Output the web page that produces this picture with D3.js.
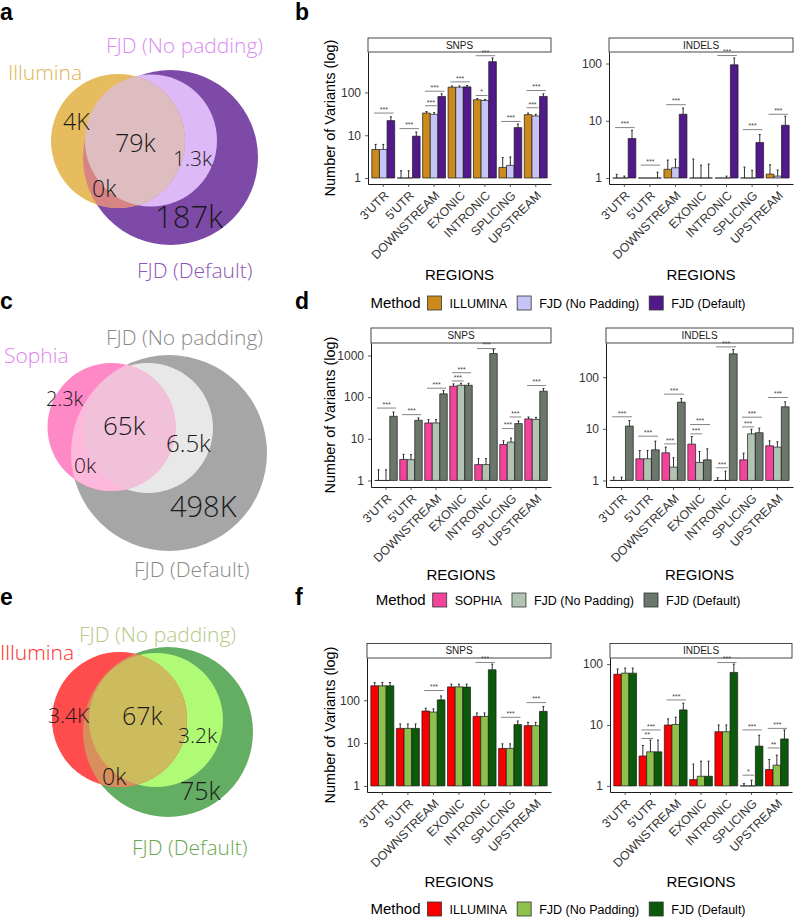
<!DOCTYPE html>
<html><head><meta charset="utf-8">
<script src="https://cdn.jsdelivr.net/npm/d3@7"></script>
<style>body{margin:0;background:#fff}svg{display:block}</style>
</head><body>
<svg id="c" width="796" height="918"></svg>
<script>
// ---------------- DATA ----------------
const regions = ["3'UTR","5'UTR","DOWNSTREAM","EXONIC","INTRONIC","SPLICING","UPSTREAM"];
const facetNames = ["SNPS","INDELS"];
const methodsB = ["ILLUMINA","FJD (No Padding)","FJD (Default)"];
const methodsD = ["SOPHIA","FJD (No Padding)","FJD (Default)"];
const methodsF = ["ILLUMINA","FJD (No Padding)","FJD (Default)"];

// panel b – SNPS
const bSnpsIllumina = [4.65, 1, 33, 133, 67.6, 1.77, 30.3];
const bSnpsNoPad    = [4.65, 1, 30.8, 133, 65, 1.97, 28.2];
const bSnpsDefault  = [22, 9.5, 80.7, 135, 526, 15.1, 80.7];
const bSnpsIlluminaErr = [6.1, 1.48, 35.9, 142, 72, 3.0, 33];
const bSnpsNoPadErr    = [6.1, 1.48, 33.7, 142, 68.5, 3.1, 30.8];
const bSnpsDefaultErr  = [27, 11.9, 93, 145, 640, 18.3, 93];
const bSnpsSig = [[0,0,2,33,"***"],[1,0,2,14.3,"***"],[2,0,2,107,"***"],[2,0,1,49,"***"],[3,0,2,177,"***"],
                  [4,0,1,85,"*"],[4,0,2,724,"***"],[5,0,2,21,"***"],[6,0,2,111,"***"],[6,0,1,44,"***"]];
// panel b – INDELS
const bIndelsIllumina = [1, 1, 1.42, 1, 1, 1, 1.17];
const bIndelsNoPad    = [1, 1, 1.51, 1, 1, 1, 1.08];
const bIndelsDefault  = [4.9, 1, 13, 1, 95, 4.17, 8.35];
const bIndelsIlluminaErr = [1.16, 1, 2.06, 2.14, 1, 1.55, 1.70];
const bIndelsNoPadErr    = [1.08, 1, 2.14, 1.68, 1.08, 1.36, 1.38];
const bIndelsDefaultErr  = [6.8, 1.26, 16.7, 1.75, 125, 5.75, 12];
const bIndelsSig = [[0,0,2,7.6,"***"],[1,0,2,1.68,"***"],[2,0,2,19.1,"***"],[4,0,2,138,"***"],[5,0,2,7.0,"***"],[6,0,2,13,"***"]];

// panel d – SNPS
const dSnpsSophia  = [1, 3.2, 24, 183, 2.4, 7.33, 30];
const dSnpsNoPad   = [1, 3.16, 24, 193, 2.4, 8.33, 29.3];
const dSnpsDefault = [34.7, 27.8, 120, 193, 1116, 23.2, 139];
const dSnpsSophiaErr  = [1.8, 4.24, 28.9, 208, 3.34, 8.96, 33.4];
const dSnpsNoPadErr   = [1.8, 4.16, 28.9, 215, 3.34, 10.4, 32.7];
const dSnpsDefaultErr = [44, 31.6, 144, 215, 1390, 26.8, 161];
const dSnpsSig = [[0,0,2,54.7,"***"],[1,0,2,38,"***"],[2,0,2,164,"***"],[3,0,2,386,"***"],[3,0,1,245,"***"],
                  [4,0,2,1468,"***"],[5,1,2,33.4,"***"],[5,0,1,17.6,"***"],[6,0,2,190,"***"]];
// panel d – INDELS
const dIndelsSophia  = [1, 2.63, 3.43, 5.05, 1, 2.51, 4.69];
const dIndelsNoPad   = [1, 2.63, 1.81, 2.23, 1, 8.0, 4.42];
const dIndelsDefault = [11.3, 3.92, 32.8, 2.51, 283, 8.4, 26.7];
const dIndelsSophiaErr  = [1.16, 3.8, 4.42, 7.1, 1.13, 3.38, 5.86];
const dIndelsNoPadErr   = [1.16, 3.8, 2.75, 3.64, 1.52, 9.8, 5.6];
const dIndelsDefaultErr = [14.5, 5.77, 38.6, 4.1, 343, 10.3, 33.3];
const dIndelsSig = [[0,0,2,17.1,"***"],[1,0,2,7.2,"***"],[2,0,2,46.9,"***"],[2,0,1,5.1,"***"],[3,0,2,12.1,"***"],
                    [3,0,1,8.0,"***"],[4,0,2,386,"***"],[4,0,1,1.76,"***"],[5,0,2,16.8,"***"],[5,0,1,10.9,"***"],[6,0,2,40.4,"***"]];

// panel f – SNPS
const fSnpsIllumina = [217, 22, 56, 205, 42, 7.5, 25.5];
const fSnpsNoPad    = [217, 22, 53, 205, 42, 7.5, 25.5];
const fSnpsDefault  = [217, 22, 102, 203, 514, 27, 55];
const fSnpsIlluminaErr = [259, 27.9, 65, 237, 50.5, 9.6, 30.5];
const fSnpsNoPadErr    = [259, 27.9, 62.7, 237, 50.5, 9.6, 30.5];
const fSnpsDefaultErr  = [259, 27.9, 126, 237, 698, 32.8, 71];
const fSnpsSig = [[2,0,2,168.5,"***"],[4,0,2,763,"***"],[5,0,2,40,"***"],[6,0,2,88,"***"]];
// panel f – INDELS
const fIndelsIllumina = [68, 3.1, 10, 1.27, 7.76, 1, 1.86];
const fIndelsNoPad    = [71, 3.63, 10.2, 1.44, 7.76, 1, 2.19];
const fIndelsDefault  = [71, 3.63, 17.7, 1.44, 73, 4.5, 5.9];
const fIndelsIlluminaErr = [83, 4.6, 12.6, 2.28, 10, 1.09, 2.72];
const fIndelsNoPadErr    = [86, 5.66, 13.4, 2.55, 10, 1.24, 3.2];
const fIndelsDefaultErr  = [86, 5.66, 22.8, 2.55, 100, 6.8, 8.3];
const fIndelsSig = [[1,0,2,8.3,"***"],[1,0,1,6.0,"**"],[2,0,2,25.8,"***"],[4,0,2,106,"***"],[5,0,2,8.3,"***"],
                    [5,0,1,1.5,"*"],[6,0,2,8.8,"***"],[6,0,1,4.2,"**"]];

// Venn diagrams
const vennANames = ["Illumina","FJD (No padding)","FJD (Default)"];
const vennACounts = ["4K","79k","1.3k","0k","187k"];
const vennCNames = ["Sophia","FJD (No padding)","FJD (Default)"];
const vennCCounts = ["2.3k","65k","6.5k","0k","498K"];
const vennENames = ["Illumina","FJD (No padding)","FJD (Default)"];
const vennECounts = ["3.4K","67k","3.2k","0k","75k"];

// ---------------- STYLE / LAYOUT ----------------
const FONT = '"Liberation Sans", Arial, Helvetica, sans-serif';
const VFONT = '"Open Sans", "Noto Sans", sans-serif';
const svg = d3.select('#c');
const defs = svg.append('defs');

const barRows = [
  { methods: methodsB, colors: ["#CC8A1C","#C6C4F6","#52198A"],
    facets: [
      {vals:[bSnpsIllumina,bSnpsNoPad,bSnpsDefault], errs:[bSnpsIlluminaErr,bSnpsNoPadErr,bSnpsDefaultErr], sig:bSnpsSig},
      {vals:[bIndelsIllumina,bIndelsNoPad,bIndelsDefault], errs:[bIndelsIlluminaErr,bIndelsNoPadErr,bIndelsDefaultErr], sig:bIndelsSig}],
    L: {top:52, bottom:184, stripTop:38, facetX:[[368,551],[609,793]], titleY:280, legendY:303} },
  { methods: methodsD, colors: ["#F2449B","#B3C3B3","#6B776B"],
    facets: [
      {vals:[dSnpsSophia,dSnpsNoPad,dSnpsDefault], errs:[dSnpsSophiaErr,dSnpsNoPadErr,dSnpsDefaultErr], sig:dSnpsSig},
      {vals:[dIndelsSophia,dIndelsNoPad,dIndelsDefault], errs:[dIndelsSophiaErr,dIndelsNoPadErr,dIndelsDefaultErr], sig:dIndelsSig}],
    L: {top:343, bottom:487, stripTop:328, facetX:[[371,551],[606,793]], titleY:580, legendY:600} },
  { methods: methodsF, colors: ["#F80000","#8EC14C","#0B5A0B"],
    facets: [
      {vals:[fSnpsIllumina,fSnpsNoPad,fSnpsDefault], errs:[fSnpsIlluminaErr,fSnpsNoPadErr,fSnpsDefaultErr], sig:fSnpsSig},
      {vals:[fIndelsIllumina,fIndelsNoPad,fIndelsDefault], errs:[fIndelsIlluminaErr,fIndelsNoPadErr,fIndelsDefaultErr], sig:fIndelsSig}],
    L: {top:658, bottom:792, stripTop:643.5, facetX:[[367,551],[610,792]], titleY:887, legendY:909} }
];

function drawBarRow(row) {
  const L = row.L;
  row.facets.forEach((f, fi) => {
    const [x0, x1] = L.facetX[fi];
    const x = d3.scaleBand().domain(regions).range([x0, x1]).paddingInner(0.1).paddingOuter(0.15);
    const xm = d3.scaleBand().domain([0,1,2]).range([0, x.bandwidth()]);
    const bw = xm.bandwidth();
    const M = Math.log10(d3.max(f.errs.flat()));
    const y = d3.scaleLog().domain([Math.pow(10, -0.05*M), Math.pow(10, 1.05*M)]).range([L.bottom, L.top]);
    const g = svg.append('g');

    // strip
    g.append('rect').attr('x', x0).attr('y', L.stripTop).attr('width', x1 - x0).attr('height', L.top - L.stripTop)
      .attr('fill', '#fff').attr('stroke', '#333').attr('stroke-width', 0.9);
    g.append('text').attr('x', (x0 + x1)/2).attr('y', (L.stripTop + L.top)/2 + 3.6).attr('text-anchor','middle')
      .style('font-family', FONT).style('font-size','10px').attr('fill','#1a1a1a').text(facetNames[fi]);

    // bars
    const recs = [];
    f.vals.forEach((vals, m) => vals.forEach((v, i) => recs.push({m, i, v, e: f.errs[m][i]})));
    g.selectAll('path.bar').data(recs).join('path').attr('class','bar')
      .attr('d', d => {
        const bx = x(regions[d.i]) + xm(d.m), y0 = y(1), y1 = y(d.v);
        return `M${bx},${y0}V${y1}H${bx + bw}V${y0}Z`;
      })
      .attr('fill', d => row.colors[d.m]).attr('stroke', '#1a1a1a').attr('stroke-width', 0.7);
    // error bars
    const er = recs.filter(d => d.e > d.v);
    g.selectAll('path.err').data(er).join('path').attr('class','err')
      .attr('d', d => {
        const cx = x(regions[d.i]) + xm(d.m) + bw/2;
        return `M${cx},${y(d.v)}V${y(d.e)}M${cx-1},${y(d.e)}H${cx+1}`;
      })
      .attr('fill','none').attr('stroke', '#1a1a1a').attr('stroke-width', 0.9);

    // significance
    const sg = g.selectAll('g.sig').data(f.sig).join('g').attr('class','sig');
    sg.append('line')
      .attr('x1', d => x(regions[d[0]]) + xm(d[1]) + bw*0.3)
      .attr('x2', d => x(regions[d[0]]) + xm(d[2]) + bw*0.85)
      .attr('y1', d => y(d[3])).attr('y2', d => y(d[3]))
      .attr('stroke', '#666').attr('stroke-width', 0.8);
    sg.append('text')
      .attr('x', d => (x(regions[d[0]]) + xm(d[1]) + bw*0.3 + x(regions[d[0]]) + xm(d[2]) + bw*0.85)/2)
      .attr('y', d => y(d[3]) - 1.2)
      .attr('text-anchor','middle').style('font-family', FONT).style('font-size','7px').attr('fill','#444')
      .text(d => d[4]);

    // axes
    const [d0, d1] = y.domain();
    const ticks = [1,10,100,1000,10000].filter(t => t >= d0 && t <= d1);
    const ya = g.append('g').attr('transform', `translate(${x0},0)`)
      .call(d3.axisLeft(y).tickValues(ticks).tickFormat(d3.format('d')).tickSize(3).tickSizeOuter(0).tickPadding(4));
    ya.select('.domain').attr('stroke','#000').attr('stroke-width',0.9);
    ya.selectAll('.tick line').attr('stroke','#333').attr('stroke-width',0.8);
    ya.selectAll('.tick text').style('font-family', FONT).style('font-size','12px').attr('fill','#333');

    const xa = g.append('g').attr('transform', `translate(0,${L.bottom})`)
      .call(d3.axisBottom(x).tickSize(3).tickSizeOuter(0).tickPadding(0));
    xa.select('.domain').attr('stroke','#000').attr('stroke-width',0.9);
    xa.selectAll('.tick line').attr('stroke','#333').attr('stroke-width',0.8);
    xa.selectAll('.tick text').attr('y', 0).attr('dy', '0.71em')
      .attr('transform', 'translate(0,6) rotate(-45)').attr('text-anchor','end')
      .style('font-family', FONT).style('font-size','12.3px').attr('fill','#333');

    // x title
    g.append('text').attr('x', (x0 + x1)/2).attr('y', L.titleY).attr('text-anchor','middle')
      .style('font-family', FONT).style('font-size','15px').attr('fill','#000').text('REGIONS');
  });

  // y title
  svg.append('text').attr('transform', `translate(335,${(L.top + L.bottom)/2}) rotate(-90)`)
    .attr('text-anchor','middle').style('font-family', FONT).style('font-size','14.5px').attr('fill','#000')
    .text('Number of Variants (log)');

  // legend
  const lg = svg.append('g');
  const t = lg.append('text').attr('x', 0).attr('y', L.legendY + 5.3).style('font-family', FONT).style('font-size','15px')
    .attr('fill','#000').text('Method');
  let cx = t.node().getComputedTextLength() + 7;
  row.methods.forEach((m, i) => {
    lg.append('rect').attr('x', cx).attr('y', L.legendY - 7).attr('width', 14).attr('height', 14)
      .attr('fill', row.colors[i]).attr('stroke', '#333').attr('stroke-width', 0.8);
    cx += 14 + 8;
    const lt = lg.append('text').attr('x', cx).attr('y', L.legendY + 4.5).style('font-family', FONT).style('font-size','12.5px')
      .attr('fill','#000').text(m);
    cx += lt.node().getComputedTextLength() + 10;
  });
  const total = cx - 10;
  lg.attr('transform', `translate(${558 - total/2},0)`);
}

barRows.forEach(drawBarRow);

// ---------------- VENN ----------------
const venns = [
  { id:'va', names:vennANames, counts:vennACounts,
    circles:{A:[118,141,67], N:[151,140.5,66], D:[170.5,157.5,87.5]},
    fills:{D:"#7E4AA8", N:"#DDBAF7", A:"#E7BC5F", AD:"#D88485", AN:"#DDBDBF"},
    nameColors:["#DDB555","#DA8CF2","#8E56B7"],
    namePos:[[8,80],[106,53],[137,278]],
    countPos:[[63,130,23],[115,152,25],[173,166,21],[92,197,23],[155,228,31]] },
  { id:'vc', names:vennCNames, counts:vennCCounts,
    circles:{A:[111.5,427,64], N:[148,428,65], D:[169,453,98]},
    fills:{D:"#A6A6A6", N:"#E8E8E8", A:"#FF88C6", AD:"#FDB8DC", AN:"#F0C1D9"},
    nameColors:["#DE83EC","#8A8A8A","#8A8A8A"],
    namePos:[[4,363],[106,345],[134,577]],
    countPos:[[46,406,20],[103,435,26],[166,452,24],[74,473,21],[170,517,29]] },
  { id:'ve', names:vennENames, counts:vennECounts,
    circles:{A:[119.5,719.5,67.5], N:[156,720,67], D:[168,732,85]},
    fills:{D:"#64AE64", N:"#AFFB76", A:"#FF4C4C", AD:"#D88F5D", AN:"#CDBC5E"},
    nameColors:["#FF2B2B","#B6C986","#6AA84F"],
    namePos:[[0,660],[79,642],[132,855]],
    countPos:[[48,723,21],[122,725,25],[178,743,21],[102,785,23],[180,800,25]] }
];

venns.forEach(v => {
  const g = svg.append('g');
  const c = v.circles;
  ['N','D'].forEach(k => defs.append('clipPath').attr('id', v.id + k).append('circle')
    .attr('cx', c[k][0]).attr('cy', c[k][1]).attr('r', c[k][2]));
  const circ = (sel, k, fill) => sel.append('circle').attr('cx', c[k][0]).attr('cy', c[k][1]).attr('r', c[k][2]).attr('fill', fill);
  circ(g, 'D', v.fills.D);
  circ(g, 'N', v.fills.N);
  circ(g, 'A', v.fills.A);
  circ(g.append('g').attr('clip-path', `url(#${v.id}D)`), 'A', v.fills.AD);
  circ(g.append('g').attr('clip-path', `url(#${v.id}N)`), 'A', v.fills.AN);
  v.names.forEach((n, i) => g.append('text').attr('x', v.namePos[i][0]).attr('y', v.namePos[i][1])
    .style('font-family', VFONT).style('font-weight', 300).style('font-size', '21px').attr('fill', v.nameColors[i]).text(n));
  v.counts.forEach((n, i) => g.append('text').attr('x', v.countPos[i][0]).attr('y', v.countPos[i][1])
    .style('font-family', VFONT).style('font-weight', 300).style('font-size', v.countPos[i][2] + 'px').attr('fill', '#1a1a1a').text(n));
});

// panel letters
const letters = [["a",0,20],["b",295,20],["c",0,309],["d",295,309],["e",0,605],["f",295,605]];
svg.selectAll('text.lett').data(letters).join('text').attr('class','lett')
  .attr('x', d => d[1]).attr('y', d => d[2]).text(d => d[0])
  .style('font-family', FONT).style('font-weight', 'bold').style('font-size', '23px').attr('fill', '#000');
</script>
</body></html>
